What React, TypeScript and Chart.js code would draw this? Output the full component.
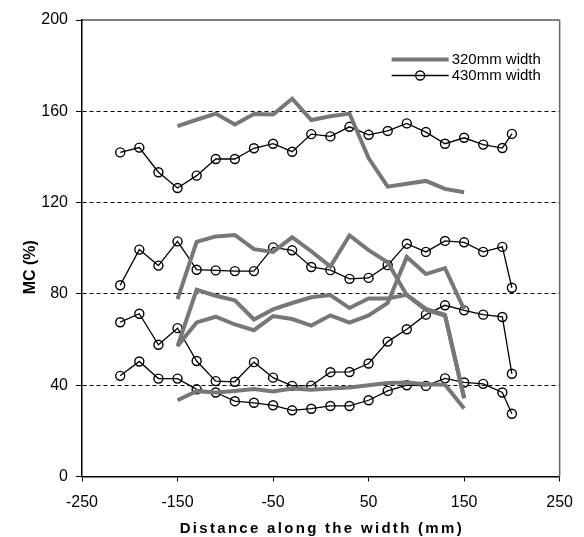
import React, { useEffect, useRef } from 'react';
import { Chart, registerables } from 'chart.js';

Chart.register(...registerables);

// ---- data ----
const x320 = [-150, -130, -110, -90, -70, -50, -30, -10, 10, 30, 50, 70, 90, 110, 130, 150];
const x430 = [-210, -190, -170, -150, -130, -110, -90, -70, -50, -30, -10, 10, 30, 50, 70, 90, 110, 130, 150, 170, 190, 200];

const mc320a = [153.5, 156.3, 159.0, 154.2, 158.8, 158.6, 165.5, 156.2, 157.8, 159.0, 139.5, 127.0, 128.3, 129.5, 126.0, 124.5];
const mc320b = [77.7, 102.8, 105.2, 105.8, 99.6, 98.4, 104.8, 98.7, 92.0, 105.6, 99.2, 93.8, 79.4, 73.0, 70.5, 34.2];
const mc320c = [57.0, 81.8, 79.2, 77.2, 68.8, 73.2, 76.0, 78.5, 79.5, 73.8, 78.0, 78.0, 79.6, 73.4, 70.8, 34.6];
const mc320d = [57.2, 67.5, 70.0, 66.6, 64.1, 70.3, 69.0, 66.1, 70.6, 67.4, 70.6, 76.0, 96.2, 88.7, 91.3, 73.2];
const mc320e = [33.4, 37.4, 36.8, 37.5, 38.3, 37.2, 38.5, 38.0, 38.5, 39.0, 40.0, 41.0, 41.2, 40.4, 40.2, 29.8];

const mc430a = [142.0, 144.1, 133.3, 126.4, 131.8, 139.1, 139.1, 143.8, 145.8, 142.3, 150.0, 149.0, 153.2, 149.7, 151.4, 154.7, 150.9, 145.8, 148.4, 145.4, 143.9, 150.1];
const mc430b = [83.8, 99.4, 92.4, 103.0, 90.6, 90.3, 90.0, 90.0, 100.4, 99.1, 91.8, 90.4, 86.6, 87.0, 92.6, 102.0, 98.4, 103.2, 102.6, 98.4, 100.6, 82.7];
const mc430c = [67.6, 71.3, 57.7, 65.0, 50.6, 41.8, 41.5, 50.1, 43.3, 39.7, 39.8, 45.7, 45.8, 49.5, 59.1, 64.5, 70.9, 75.0, 72.8, 70.9, 69.9, 45.0];
const mc430d = [44.1, 50.4, 42.9, 42.9, 38.2, 36.8, 33.0, 32.3, 31.2, 29.0, 29.7, 30.9, 30.9, 33.4, 37.5, 40.0, 39.7, 43.0, 41.2, 40.6, 36.8, 27.5];

const series320 = [mc320a, mc320b, mc320c, mc320d, mc320e];
const series430 = [mc430a, mc430b, mc430c, mc430d];
const legendLabels = ['320mm width', '430mm width'];
const xTitle = 'Distance along the width (mm)';
const yTitle = 'MC (%)';

const FONT = '"Liberation Sans", Arial, Helvetica, sans-serif';
const GRAY = '#777777';

const legendPlugin = {
  id: 'insideLegend',
  afterDraw(chart: any) {
    const { ctx, chartArea } = chart;
    const x0 = chartArea.right - 168;
    const x1 = x0 + 57;
    const y0 = chartArea.top + 39.5;
    const y1 = chartArea.top + 55.5;
    ctx.save();
    ctx.strokeStyle = GRAY;
    ctx.lineWidth = 4;
    ctx.beginPath();
    ctx.moveTo(x0, y0);
    ctx.lineTo(x1, y0);
    ctx.stroke();
    ctx.strokeStyle = '#000';
    ctx.lineWidth = 1.3;
    ctx.beginPath();
    ctx.moveTo(x0, y1);
    ctx.lineTo(x1, y1);
    ctx.stroke();
    ctx.beginPath();
    ctx.arc((x0 + x1) / 2, y1, 4.5, 0, Math.PI * 2);
    ctx.stroke();
    ctx.fillStyle = '#000';
    ctx.font = `15px ${FONT}`;
    ctx.textBaseline = 'middle';
    ctx.textAlign = 'left';
    ctx.fillText(legendLabels[0], x1 + 3, y0);
    ctx.fillText(legendLabels[1], x1 + 3, y1);
    ctx.restore();
  },
};

const titlePlugin = {
  id: 'axisTitles',
  afterDraw(chart: any) {
    const { ctx, chartArea } = chart;
    ctx.save();
    ctx.fillStyle = '#000';
    ctx.textAlign = 'center';
    ctx.textBaseline = 'middle';
    ctx.font = `bold 15px ${FONT}`;
    if ('letterSpacing' in ctx) ctx.letterSpacing = '2.3px';
    ctx.fillText(xTitle, (chartArea.left + chartArea.right) / 2 + 1, chartArea.bottom + 52);
    if ('letterSpacing' in ctx) ctx.letterSpacing = '0px';
    ctx.translate(31, (chartArea.top + chartArea.bottom) / 2 + 19);
    ctx.rotate(-Math.PI / 2);
    ctx.font = `bold 16px ${FONT}`;
    ctx.fillText(yTitle, 0, 0);
    ctx.restore();
  },
};

const framePlugin = {
  id: 'frame',
  beforeDatasetsDraw(chart: any) {
    const { ctx, chartArea } = chart;
    ctx.save();
    ctx.strokeStyle = '#000';
    ctx.lineWidth = 1;
    ctx.beginPath();
    ctx.moveTo(chartArea.left, chartArea.top);
    ctx.lineTo(chartArea.right, chartArea.top);
    ctx.stroke();
    ctx.strokeStyle = '#666';
    ctx.lineWidth = 1.5;
    ctx.beginPath();
    ctx.moveTo(chartArea.right, chartArea.top);
    ctx.lineTo(chartArea.right, chartArea.bottom);
    ctx.stroke();
    ctx.restore();
  },
};

export default function App() {
  const ref = useRef<HTMLCanvasElement | null>(null);

  useEffect(() => {
    if (!ref.current) return;
    const datasets: any[] = [];
    series320.forEach((ys, i) => {
      datasets.push({
        label: i === 0 ? legendLabels[0] : '',
        data: x320.map((x, j) => ({ x, y: ys[j] })),
        borderColor: GRAY,
        backgroundColor: GRAY,
        borderWidth: 4,
        pointRadius: 0,
        tension: 0,
        fill: false,
      });
    });
    series430.forEach((ys, i) => {
      datasets.push({
        label: i === 0 ? legendLabels[1] : '',
        data: x430.map((x, j) => ({ x, y: ys[j] })),
        borderColor: '#000',
        backgroundColor: 'rgba(0,0,0,0)',
        borderWidth: 1.3,
        pointRadius: 4.5,
        pointBorderWidth: 1.4,
        pointBorderColor: '#000',
        pointBackgroundColor: 'rgba(255,255,255,0)',
        tension: 0,
        fill: false,
      });
    });

    const chart = new Chart(ref.current, {
      type: 'line',
      data: { datasets },
      options: {
        animation: false,
        responsive: false,
        maintainAspectRatio: false,
        layout: { padding: { top: 20, right: 16, left: 0, bottom: 0 } },
        plugins: { legend: { display: false }, tooltip: { enabled: false } },
        scales: {
          x: {
            type: 'linear',
            min: -250,
            max: 250,
            ticks: {
              stepSize: 100,
              color: '#000',
              font: { family: FONT, size: 16 },
              padding: 11,
              maxRotation: 0,
              autoSkip: false,
            },
            grid: { drawOnChartArea: false, drawTicks: true, tickLength: 5, tickColor: '#000', tickWidth: 1 },
            border: { display: true, color: '#000', width: 1.5 },
            title: { display: false },
            afterFit: (s: any) => {
              s.height = 60.5;
            },
          } as any,
          y: {
            min: 0,
            max: 200,
            ticks: {
              stepSize: 40,
              color: '#000',
              font: { family: FONT, size: 16 },
              padding: 8,
            },
            grid: {
              color: (c: any) =>
                c.tick && c.tick.value > 0 && c.tick.value < 200 ? '#000' : 'rgba(0,0,0,0)',
              lineWidth: 1,
              tickLength: 6,
              tickColor: '#000',
              tickWidth: 1,
            },
            border: { display: true, color: '#000', width: 1.5, dash: [4, 3] },
            title: { display: false },
            afterFit: (s: any) => {
              s.width = 82;
            },
          } as any,
        },
      },
      plugins: [framePlugin, legendPlugin, titlePlugin],
    });
    return () => chart.destroy();
  }, []);

  return (
    <div style={{ position: 'absolute', left: 0, top: 0, width: 584, height: 537, background: '#fff' }}>
      <canvas ref={ref} width={584} height={537} style={{ width: 584, height: 537, display: 'block' }} />
    </div>
  );
}
